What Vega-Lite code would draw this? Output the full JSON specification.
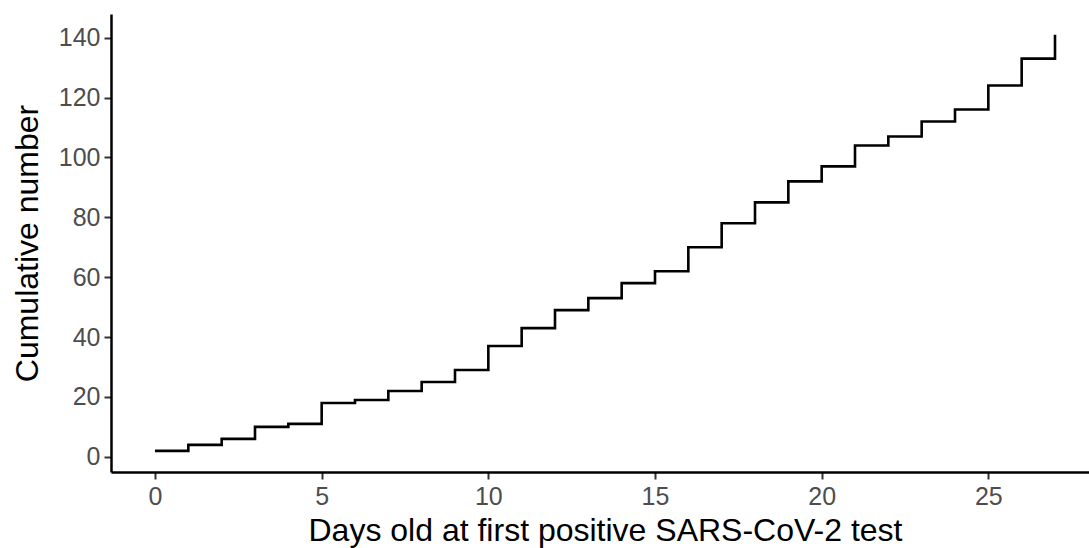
{
  "$schema": "https://vega.github.io/schema/vega-lite/v6.json",
  "autosize": {"type": "none"},
  "width": 978,
  "height": 458,
  "padding": {"left": 111, "top": 14, "right": 0, "bottom": 76},
  "background": "white",
  "config": {
    "view": {"stroke": null},
    "font": "Liberation Sans",
    "axis": {
      "grid": false,
      "domainColor": "black",
      "domainWidth": 2.5,
      "tickColor": "#333333",
      "tickWidth": 2,
      "tickSize": 7,
      "labelColor": "#4D4D4D",
      "labelFontSize": 25,
      "labelFont": "Liberation Sans",
      "titleFont": "Liberation Sans",
      "titleFontSize": 32,
      "titleFontWeight": "normal",
      "titleColor": "black"
    }
  },
  "data": {
    "values": [
      {"day": 0, "cum": 2},
      {"day": 1, "cum": 4},
      {"day": 2, "cum": 6},
      {"day": 3, "cum": 10},
      {"day": 4, "cum": 11},
      {"day": 5, "cum": 18},
      {"day": 6, "cum": 19},
      {"day": 7, "cum": 22},
      {"day": 8, "cum": 25},
      {"day": 9, "cum": 29},
      {"day": 10, "cum": 37},
      {"day": 11, "cum": 43},
      {"day": 12, "cum": 49},
      {"day": 13, "cum": 53},
      {"day": 14, "cum": 58},
      {"day": 15, "cum": 62},
      {"day": 16, "cum": 70},
      {"day": 17, "cum": 78},
      {"day": 18, "cum": 85},
      {"day": 19, "cum": 92},
      {"day": 20, "cum": 97},
      {"day": 21, "cum": 104},
      {"day": 22, "cum": 107},
      {"day": 23, "cum": 112},
      {"day": 24, "cum": 116},
      {"day": 25, "cum": 124},
      {"day": 26, "cum": 133},
      {"day": 27, "cum": 141}
    ]
  },
  "mark": {"type": "line", "interpolate": "step-after", "color": "black", "strokeWidth": 2.6, "strokeCap": "butt", "strokeJoin": "miter"},
  "encoding": {
    "x": {
      "field": "day",
      "type": "quantitative",
      "scale": {"domain": [-1.32, 28.02], "nice": false, "zero": false},
      "axis": {"values": [0, 5, 10, 15, 20, 25], "title": "Days old at first positive SARS-CoV-2 test", "labelPadding": 5, "titlePadding": 6, "titleX": 494}
    },
    "y": {
      "field": "cum",
      "type": "quantitative",
      "scale": {"domain": [-5.07, 147.9], "nice": false, "zero": false},
      "axis": {"values": [0, 20, 40, 60, 80, 100, 120, 140], "title": "Cumulative number", "labelPadding": 4, "titlePadding": 14}
    }
  }
}
